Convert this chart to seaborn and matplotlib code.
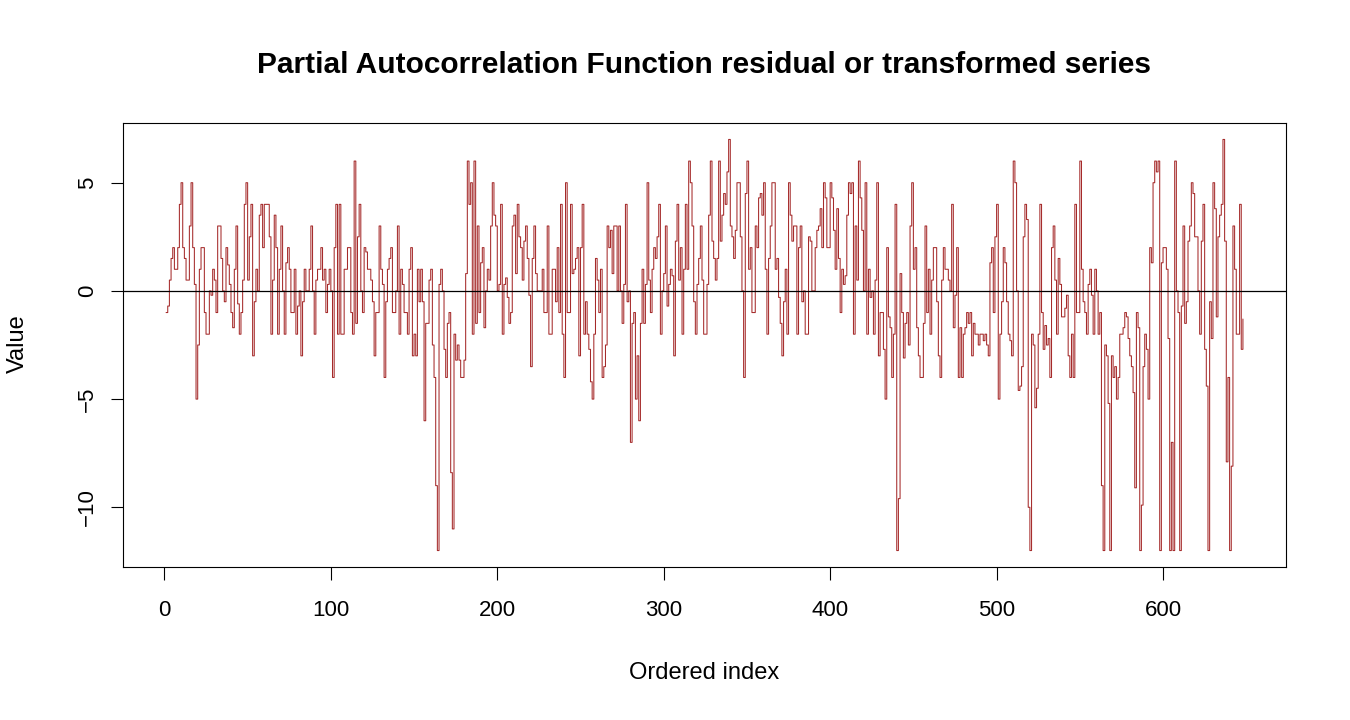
import matplotlib
matplotlib.use("Agg")
import matplotlib.pyplot as plt
import numpy as np
import pandas as pd
import seaborn as sns

# Values, in index order (step plot, one value per index)
vals_001_052 = [-1, -0.7, 0.5, 1.5, 2, 1, 1, 2, 4, 5,
                2, 1.5, 0.5, 0.5, 3, 5, 2, 0.3, -5, -2.5,
                1, 2, 2, -1, -2, -2, 0, -0.2, 1, 0.5,
                -1, 3, 3, 1.5, 0, -0.5, 2, 1.2, 0.3, -1,
                -1.7, 1, 3, -0.6, -2, -1, 0.5, 4, 5, 0.5,
                2.5, 4]
vals_053_108 = [-3, -0.5, 1, 0, 3.5, 4, 2, 4, 4, 4,
                2.5, -2, 0.5, 3.5, 2, -2, 1, 3, 0, -2,
                1.3, 2, 1, -1, -1, 1, -2, -0.7, 0, -3,
                -0.5, 1, 0, 0, 1, 3, 0, -2, 0.5, 1,
                1, 2, 0.5, 1, -1, 0.3, 1, 0, -4, 2,
                4, -2, 4, -2, -2, 1]
vals_109_163 = [1, 2, 2, -1, -2, 6, -1.5, 2.5, 4, 0,
                -1, 2, 1.8, 1, 1, 0.5, -0.5, -3, -1, -1,
                3, 1, 0.3, -4, -0.5, 1, 1.5, 2, -1, -1,
                0, 3, -2, 1, 0.3, -1, -1, -2, 1, 2,
                -3, -2, -3, 1, -0.5, 1, -0.5, -6, -1.5, -1.5,
                0.5, 1, -2.5, -4, -9]
vals_164_218 = [-12, 0.3, 1, 0, -2.7, -4, -1.5, -1, -8.4, -11,
                -2, -3.2, -2.5, -3.2, -4, -4, -3.2, 0.8, 6, 4,
                5, -2, 6, -1.5, 3, -1, 1.3, 2, -1.7, 0,
                1, 0.5, 3, 5, 3.5, 3, 0, 0.3, 4, -2,
                0.3, 0.6, -0.3, -1.5, -1, 3, 3.5, 0.8, 4, 2.5,
                2, 0.5, 2.3, 3, 1.5]
vals_219_274 = [-0.2, -3.5, 1.5, 3, 0.8, 0, 0, 0, 1, -1,
                -1, 3, -2, -2, 1, 1, -0.5, 2, -1, 4,
                -2, -4, 5, -1, -1, 4, 0.8, 1, 1.5, 2,
                -3, 2, 4, -2, -0.5, -2, -2.7, -4.2, -5, -2,
                1.5, 0.5, -1, 1, -4, -3.5, -2.5, 3, 2, 2.8,
                0.8, 3, 3, 0, 3, 0]
vals_275_329 = [-1.5, 0.3, 4, -0.5, 0, -7, -1.5, -1, -5, -3,
                -6, -1.5, 1, -1.5, 0.3, 5, 0.5, -1, 1, 2,
                1.5, 2.5, 4, -2, 0, 0.8, 3, -0.7, 0.3, 1,
                0.7, -3, 2.3, 4, 0.5, 2, -2, 1, 4, 1,
                6, 5, 3, -0.5, -2, 0.3, 1.5, 3, 0.5, -2,
                -2, 0.3, 3.5, 6, 2.3]
vals_330_384 = [1.5, 0.5, 1.5, 6, 2.3, 3.5, 4.5, 4, 5.5, 7,
                3, 2.5, 1.5, 2.8, 5, 5, 2.5, 0, -4, 4.5,
                6, 1, 2, -1, -1, 3, 2, 4.3, 4.5, 3.5,
                5, 1, -2, 1.5, 3, 5, 5, 1, 1.5, -0.3,
                -1.5, -3, -0.5, 1, -2, 5, 3.5, 2.3, 3, 3,
                -2, 2, 3, -0.5, 0]
vals_385_439 = [-2, -2, 2.5, 2.3, 0, 0, 2, 2.8, 3, 3.8,
                2, 5, 4.3, 2, 2, 5, 4.3, 2.8, 1, 3.8,
                1.5, -1, 1, 0.3, 0.7, 3.5, 5, 4.5, 5, -2,
                3, 0.5, 6, 4.3, 2.8, 0, 5, -2, 1, -0.3,
                0, -2, 0.5, 5, -3, -1, -1, -2.7, -5, 2,
                -1.2, -1.7, -4, -2, 4]
vals_440_495 = [-12, -9.6, 0.8, -1, -3.1, -1.5, -1, -2.5, 3, 5,
                1, 2, -1.7, -3, -4, -4, -1.5, 3, -1, 1,
                -2, 0.5, 2, 2, -0.5, -3, -4, 0.5, 2, 1,
                1, 0.5, 0, 4, -1.7, -0.2, 2, -4, -1.7, -4,
                -2, -1.7, -1, -1.5, -1, -3, -1.5, -2, -2, -2.5,
                -2, -2, -2.3, -2, -2.5, -3]
vals_496_550 = [1.3, 2, -1, 2.5, 4, -5, -2, -0.5, 2, 1.3,
                -0.5, -2, -2.3, -3, 6, 5, 0, -4.6, -4.4, -3.5,
                2.5, 4, 3.3, -10, -12, -2, -2.5, -5.4, -4.5, -2,
                4, -1, -2.7, -1.6, -2.5, -2.2, -4, 2, 3, 0.5,
                -2, 1.5, 0.3, -1.2, -1.2, -0.8, -0.2, -3, -4, -2,
                -4, 4, -1, -1, 6]
vals_551_605 = [1, -0.5, -1, -2, 0.3, 1, -0.2, -2, 1, 0,
                -2, -1, -9, -12, -2.5, -3, -5.2, -12, -3, -4,
                -3.5, -5, -4, -2, -2, -1.7, -1, -1.2, -2.2, -3,
                -3.5, -4.7, -9.1, -1, -1.7, -12, -9.9, -3.5, -2, -2.7,
                -5, 2, 1.3, 5, 6, 5.5, 6, -12, 1.3, 2,
                2, 1, -2.2, -12, -7]
vals_606_648 = [-12, 6, 0, -1, -12, -0.7, 3, -1.5, -0.5, 2.3,
                3, 5, 4.5, 2.5, 2.5, 0, -2, 2.3, 4, -2.7,
                -4.4, -12, -0.5, -2.2, 5, 3.8, -1.2, 2.5, 3.5, 4,
                7, 2.3, -7.9, -4, -12, -8.1, 3, 1, -2, -2,
                4, -2.7, -1.3]

values = np.concatenate([vals_001_052, vals_053_108, vals_109_163, vals_164_218,
                         vals_219_274, vals_275_329, vals_330_384, vals_385_439,
                         vals_440_495, vals_496_550, vals_551_605, vals_606_648])
df = pd.DataFrame({"index": np.arange(1, len(values) + 1), "value": values})

x_ticks = [0, 100, 200, 300, 400, 500, 600]
y_ticks = [-10, -5, 0, 5]

sns.set_theme(style="ticks")
plt.rcParams['font.family'] = ['Liberation Sans', 'DejaVu Sans']

fig = plt.figure(figsize=(13.5, 7.2), dpi=100)
ax = fig.add_axes([123 / 1350, 1 - 567 / 720, (1286 - 123) / 1350, (567 - 123) / 720])

sns.lineplot(data=df, x="index", y="value", drawstyle="steps-post",
             color="#A52A2A", lw=0.75, ax=ax)
ax.axhline(0, color="black", lw=0.9)

# R style 4% axis padding
n = len(values)
ax.set_xlim(1 - 0.04 * (n - 1), n + 0.04 * (n - 1))
lo, hi = values.min(), values.max()
pad = 0.04 * (hi - lo)
ax.set_ylim(lo - pad, hi + pad)

ax.set_xticks(x_ticks)
ax.set_yticks(y_ticks)
for s in ax.spines.values():
    s.set_visible(True)
    s.set_color("black")
    s.set_linewidth(0.8)
ax.tick_params(direction="out", length=9, width=0.8, colors="black", labelsize=16)
ax.tick_params(axis="x", pad=15)
ax.tick_params(axis="y", pad=9)
plt.setp(ax.get_yticklabels(), rotation=90, va="center")
ax.set_xlabel("")
ax.set_ylabel("")

fig.text(704 / 1350, 1 - 65 / 720, "Partial Autocorrelation Function residual or transformed series",
         ha="center", va="center", fontsize=21.5, fontweight="bold", color="black")
fig.text(704 / 1350, 1 - 673 / 720, "Ordered index", ha="center", va="center",
         fontsize=17, color="black")
fig.text(18 / 1350, 1 - 344 / 720, "Value", ha="center", va="center", rotation=90,
         fontsize=17, color="black")

fig.savefig("out.png", dpi=100)
